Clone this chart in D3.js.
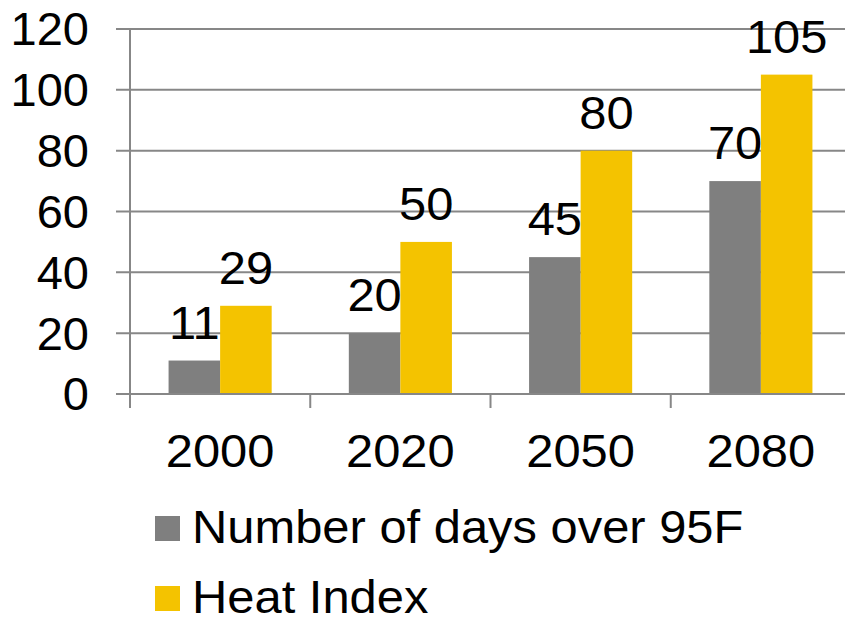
<!DOCTYPE html>
<html>
<head>
<meta charset="utf-8">
<script src="https://cdn.jsdelivr.net/npm/d3@7"></script>
<style>
  body { margin: 0; background: #fff; }
  text { font-family: "Liberation Sans", Arial, sans-serif; fill: #000; }
</style>
</head>
<body>
<script>
var years = ["2000", "2020", "2050", "2080"];
var seriesNames = ["Number of days over 95F", "Heat Index"];
var daysOver95 = [11, 20, 45, 70];
var heatIndex = [29, 50, 80, 105];
var yTicks = [0, 20, 40, 60, 80, 100, 120];

function init () {
  'use strict';
  var w = 845;
  var h = 618;
  var left = 130, right = 851, top = 29, bottom = 394;
  var colors = ["#7f7f7f", "#f4c300"];
  var series = [daysOver95, heatIndex];
  var stretch = 1.04;

  // text in the original is a little wider than the font
  function place(sel, fx, fy) {
    sel.attr("transform", function(d, i) {
      return "translate(" + fx(d, i) + "," + fy(d, i) + ") scale(" + stretch + ",1)";
    });
  }

  var svg = d3.select("body")
    .append("svg")
    .attr("width", w)
    .attr("height", h);

  var yScale = d3.scaleLinear()
    .domain([0, 120])
    .range([bottom, top]);

  var xScale = d3.scaleBand()
    .domain(years)
    .range([left, right]);

  var bw = xScale.bandwidth();
  var inner = d3.scaleBand()
    .domain(d3.range(series.length))
    .range([bw * 0.214, bw * 0.786]);

  // gridlines
  svg.append("g")
    .selectAll("line")
    .data(yTicks)
    .enter()
    .append("line")
    .attr("x1", left - 14)
    .attr("x2", right)
    .attr("y1", function(d) { return yScale(d); })
    .attr("y2", function(d) { return yScale(d); })
    .attr("stroke", "#878787")
    .attr("stroke-width", 2);

  // y labels
  svg.append("g")
    .selectAll("text")
    .data(yTicks)
    .enter()
    .append("text")
    .attr("x", 89)
    .attr("y", function(d) { return yScale(d); })
    .attr("dy", "0.35em")
    .attr("text-anchor", "end")
    .attr("font-size", 47)
    .text(function(d) { return d; });

  // bars
  series.forEach(function(vals, s) {
    var g = svg.append("g");
    g.selectAll("rect")
      .data(vals)
      .enter()
      .append("rect")
      .attr("x", function(d, i) { return xScale(years[i]) + inner(s); })
      .attr("y", function(d) { return yScale(d); })
      .attr("width", inner.bandwidth())
      .attr("height", function(d) { return bottom - yScale(d); })
      .attr("fill", colors[s]);

    g.selectAll("text")
      .data(vals)
      .enter()
      .append("text")
      .attr("text-anchor", "middle")
      .attr("font-size", 47)
      .text(function(d) { return d; })
      .call(place,
        function(d, i) { return xScale(years[i]) + inner(s) + inner.bandwidth() / 2; },
        function(d) { return yScale(d) - 22; });
  });

  // axes lines
  svg.append("line")
    .attr("x1", left).attr("x2", left)
    .attr("y1", top).attr("y2", bottom + 14)
    .attr("stroke", "#878787").attr("stroke-width", 2);
  svg.append("line")
    .attr("x1", left - 14).attr("x2", right)
    .attr("y1", bottom).attr("y2", bottom)
    .attr("stroke", "#878787").attr("stroke-width", 2);

  // x ticks at category boundaries
  svg.append("g")
    .selectAll("line")
    .data(years.concat(["end"]))
    .enter()
    .append("line")
    .attr("x1", function(d, i) { return left + i * bw; })
    .attr("x2", function(d, i) { return left + i * bw; })
    .attr("y1", bottom)
    .attr("y2", bottom + 14)
    .attr("stroke", "#878787")
    .attr("stroke-width", 2);

  // x labels
  svg.append("g")
    .selectAll("text")
    .data(years)
    .enter()
    .append("text")
    .attr("text-anchor", "middle")
    .attr("font-size", 47)
    .text(function(d) { return d; })
    .call(place, function(d) { return xScale(d) + bw / 2; }, function() { return 467; });

  // legend
  var legend = svg.append("g")
    .selectAll("g")
    .data(seriesNames)
    .enter()
    .append("g")
    .attr("transform", function(d, i) { return "translate(155," + (516 + i * 70) + ")"; });
  legend.append("rect")
    .attr("width", 25)
    .attr("height", 25)
    .attr("fill", function(d, i) { return colors[i]; });
  legend.append("text")
    .attr("font-size", 47)
    .text(function(d) { return d; })
    .call(place, function() { return 37; }, function() { return 27; });
}

window.onload = init;
</script>
</body>
</html>
